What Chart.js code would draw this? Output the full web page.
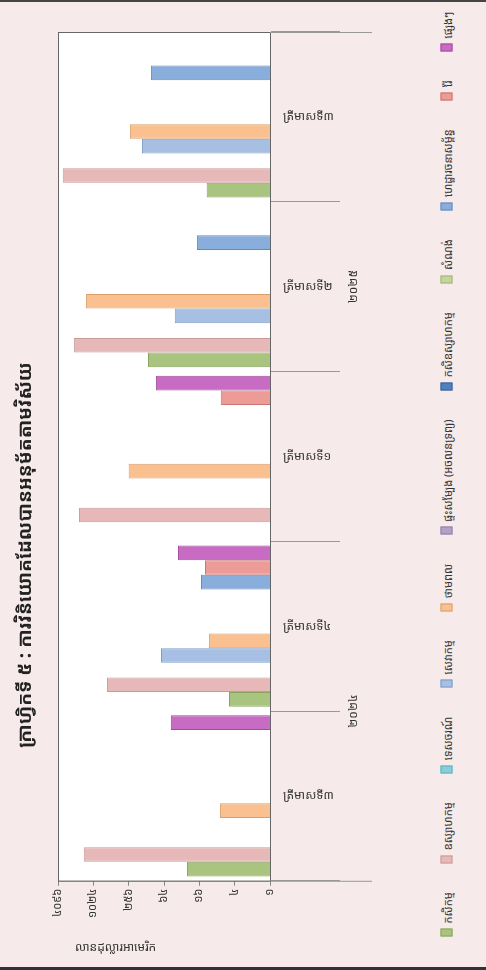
<!DOCTYPE html>
<html>
<head>
<meta charset="utf-8">
<script src="https://cdn.jsdelivr.net/npm/chart.js@4.4.0/dist/chart.umd.min.js"></script>
<style>
  html, body { margin: 0; padding: 0; }
  body { width: 486px; height: 970px; background: #f6eaea; overflow: hidden;
         font-family: 'Noto Sans Khmer', 'Khmer OS', 'DejaVu Sans', sans-serif; }
  #frame { position: relative; width: 486px; height: 970px; box-sizing: border-box;
           border-top: 2px solid #444; border-bottom: 3px solid #333; }
  #chart-box { position: absolute; left: 0; top: 0; width: 400px; height: 965px; }
  #title { position: absolute; left: -276px; top: 538px; width: 600px; height: 30px; line-height: 30px;
           text-align: center; transform: rotate(-90deg); font-size: 19px; font-weight: bold; color: #222;
           white-space: nowrap; }
  #axis-title { position: absolute; left: 75px; top: 936px; font-size: 12px; color: #333; white-space: nowrap; }
  #legend { position: absolute; left: -16px; top: 464px; width: 925px; height: 16px;
            display: flex; justify-content: space-between; align-items: center;
            transform: rotate(-90deg); font-size: 11px; color: #333; white-space: nowrap; }
  .item { display: flex; align-items: center; }
  .swatch { width: 8px; height: 12px; margin-right: 5px; box-sizing: border-box; }
</style>
</head>
<body>
<div id="frame">
  <div id="chart-box"><canvas id="chart"></canvas></div>
  <div id="title"></div>
  <div id="axis-title"></div>
  <div id="legend"></div>
</div>
<script>
const FONT = "'Noto Sans Khmer', 'Khmer OS', 'DejaVu Sans', sans-serif";

const titleText = 'ក្រាហ្វិកទី ៥ : ការវិនិយោគដែលបានអនុម័តតាមវិស័យ';
const axisTitle = 'លានដុល្លារអាមេរិក';

// categories (bottom to top in the picture)
const categories = ['ត្រីមាសទី៣', 'ត្រីមាសទី៤', 'ត្រីមាសទី១', 'ត្រីមាសទី២', 'ត្រីមាសទី៣'];
const years = ['២០២៤', '២០២៤', '២០២៥', '២០២៥', '២០២៥'];

// log axis ticks
const tickValues = [1, 4, 16, 64, 256, 1024, 4096];
const tickLabels = ['១', '៤', '១៦', '៦៤', '២៥៦', '១០២៤', '៤០៩៦'];

// series
const seriesNames = ['កសិកម្ម', 'ឧស្សាហកម្ម', 'ទេសចរណ៍', 'សេវាកម្ម', 'ថាមពល',
  'ផ្ទះសម្បែង (អចលនទ្រព្យ)', 'កសិឧស្សាហកម្ម', 'សំណង់', 'ហេដ្ឋារចនាសម្ព័ន្ធ', 'រ៉ែ', 'ផ្សេងៗ'];
const seriesColors = ['#a9c47f', '#e6b9b8', '#86cfd9', '#a7bfe3', '#fac08f',
  '#b3a2c7', '#4f81bd', '#c3d69b', '#8aaedc', '#ec9b96', '#c86cc3'];
const borderColors = ['#87a35c', '#c99a99', '#5fb0bc', '#7f9cc8', '#d9a06e',
  '#8f7fa8', '#3a6396', '#9fb577', '#6589bb', '#c97570', '#a34aa0'];

const agriculture   = [26, 5, null, 120, 12];
const industry      = [1490, 600, 1800, 2200, 3400];
const tourism       = [null, null, null, null, null];
const services      = [null, 72, null, 42, 152];
const energy        = [7.1, 11, 256, 1370, 244];
const realEstate    = [null, null, null, null, null];
const agroIndustry  = [null, null, null, null, null];
const construction  = [null, null, null, null, null];
const infrastructure = [null, 15, null, 17.6, 107];
const mining        = [null, 12.8, 6.9, null, null];
const others        = [49, 37, 88, null, null];

const seriesValues = [agriculture, industry, tourism, services, energy, realEstate,
  agroIndustry, construction, infrastructure, mining, others];

document.getElementById('title').textContent = titleText;
document.getElementById('axis-title').textContent = axisTitle;

const plotArea = {
  id: 'plotArea',
  beforeDatasetsDraw(chart) {
    const { ctx, chartArea: a } = chart;
    ctx.save();
    ctx.fillStyle = '#ffffff';
    ctx.fillRect(a.left, a.top, a.right - a.left, a.bottom - a.top);
    ctx.restore();
  },
  afterDraw(chart) {
    const { ctx, chartArea: a, scales: { y } } = chart;
    ctx.save();
    ctx.strokeStyle = '#666';
    ctx.lineWidth = 1;
    ctx.strokeRect(a.left + 0.5, a.top + 0.5, a.right - a.left, a.bottom - a.top);

    // outer ends of the category axis run further out
    ctx.strokeStyle = '#999';
    ctx.beginPath();
    ctx.moveTo(a.right, a.top + 0.5); ctx.lineTo(a.right + 102, a.top + 0.5);
    ctx.moveTo(a.right, a.bottom + 0.5); ctx.lineTo(a.right + 102, a.bottom + 0.5);
    ctx.stroke();

    // quarter labels
    ctx.fillStyle = '#333';
    ctx.font = '12px ' + FONT;
    ctx.textAlign = 'left';
    ctx.textBaseline = 'middle';
    categories.forEach((c, i) => ctx.fillText(c, a.right + 13, y.getPixelForValue(i)));

    // year group labels
    ctx.textAlign = 'center';
    let start = 0;
    for (let i = 1; i <= years.length; i++) {
      if (i === years.length || years[i] !== years[start]) {
        const mid = (y.getPixelForValue(start) + y.getPixelForValue(i - 1)) / 2;
        ctx.save();
        ctx.translate(a.right + 84, mid);
        ctx.rotate(-Math.PI / 2);
        ctx.fillText(years[start], 0, 0);
        ctx.restore();
        start = i;
      }
    }
    ctx.restore();
  }
};

const datasets = seriesNames.map((name, i) => ({
  label: name,
  data: seriesValues[i],
  backgroundColor: seriesColors[i],
  borderColor: borderColors[i],
  borderWidth: 1,
  order: -i,
  categoryPercentage: 0.95,
  barPercentage: 1.0
}));

// legend (drawn as a rotated row, like the picture)
const legendEl = document.getElementById('legend');
seriesNames.forEach((name, i) => {
  const item = document.createElement('div');
  item.className = 'item';
  item.innerHTML = `<span class="swatch" style="background:${seriesColors[i]};border:1px solid ${borderColors[i]}"></span><span>${name}</span>`;
  legendEl.appendChild(item);
});

new Chart(document.getElementById('chart'), {
  type: 'bar',
  data: { labels: categories, datasets: datasets },
  options: {
    indexAxis: 'y',
    responsive: true,
    maintainAspectRatio: false,
    animation: false,
    layout: { padding: { top: 30, right: 60, bottom: 46, left: 58 } },
    plugins: {
      legend: { display: false },
      tooltip: { enabled: false },
      title: { display: false }
    },
    scales: {
      x: {
        type: 'logarithmic',
        reverse: true,
        min: 1,
        max: 4096,
        afterBuildTicks: (scale) => { scale.ticks = tickValues.map(v => ({ value: v })); },
        ticks: {
          autoSkip: false,
          minRotation: 90,
          maxRotation: 90,
          padding: 3,
          color: '#333',
          font: { size: 11, family: FONT },
          callback: (v, i) => tickLabels[i]
        },
        grid: { drawOnChartArea: false, tickLength: 5, color: '#888' },
        border: { color: '#555' }
      },
      y: {
        position: 'right',
        reverse: true,
        offset: true,
        grid: { offset: true, drawOnChartArea: false, tickLength: 70, color: '#999' },
        border: { color: '#555' },
        ticks: { display: false }
      }
    }
  },
  plugins: [plotArea]
});
</script>
</body>
</html>
